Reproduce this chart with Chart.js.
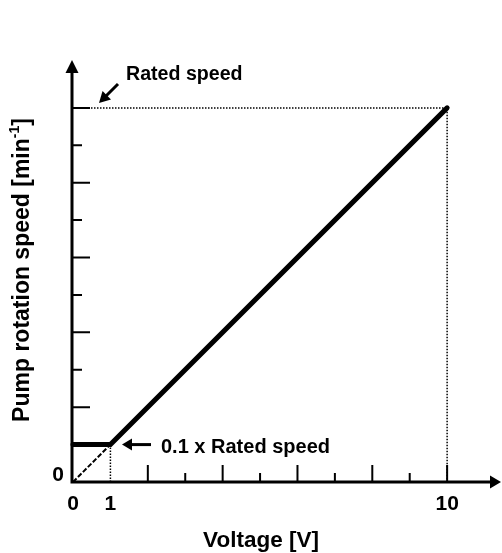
<!DOCTYPE html>
<html>
<head>
<meta charset="utf-8">
<script src="https://cdn.jsdelivr.net/npm/chart.js@4/dist/chart.umd.min.js"></script>
<style>
  html, body { margin: 0; padding: 0; background: #fff; }
  #wrap { width: 502px; height: 553px; position: relative; }
</style>
</head>
<body>
<div id="wrap"><canvas id="c"></canvas></div>
<script>
// Control characteristic: voltage input vs. pump speed
const voltage = [0, 1, 10];          // V
const speed = [1, 1, 10];            // in units of 0.1 x rated speed
const ratedSpeed = 10;
const minVoltage = 1;
const minSpeed = 1;
const idealVoltage = [0, 1];         // proportional line below the floor
const idealSpeed = [0, 1];

const xLabelTicks = [0, 1, 10];
const yLabelTicks = [0];
const xMajorTicks = [2, 4, 6, 8, 10];
const xMinorTicks = [3, 5, 7, 9];
const yMajorTicks = [2, 4, 6, 8, 10];
const yMinorTicks = [3, 5, 7, 9];

const xTitle = 'Voltage [V]';
const yTitle = 'Pump rotation speed [min';
const yTitleSup = '-1';
const ratedLabel = 'Rated speed';
const minLabel = '0.1 x Rated speed';

const FONT = '"Liberation Sans", Arial, Helvetica, sans-serif';

const pts = (xs, ys) => xs.map((x, i) => ({ x, y: ys[i] }));

function arrowHead(ctx, tx, ty, angle, len, half) {
  ctx.save();
  ctx.translate(tx, ty);
  ctx.rotate(angle);
  ctx.beginPath();
  ctx.moveTo(0, 0);
  ctx.lineTo(-len, -half);
  ctx.lineTo(-len, half);
  ctx.closePath();
  ctx.fill();
  ctx.restore();
}

const decor = {
  id: 'decor',
  afterDatasetsDraw(chart) {
    const { ctx, chartArea: a, scales: { x, y } } = chart;
    const x0 = x.getPixelForValue(0);
    const y0 = y.getPixelForValue(0);
    ctx.save();
    ctx.strokeStyle = '#000';
    ctx.fillStyle = '#000';
    ctx.setLineDash([]);

    // axes with arrow heads
    ctx.lineWidth = 3;
    ctx.beginPath();
    ctx.moveTo(x0, y0);
    ctx.lineTo(a.right - 4, y0);
    ctx.moveTo(x0 - 1, y0 + 1.5);
    ctx.lineTo(x0 - 1, a.top + 4);
    ctx.stroke();
    arrowHead(ctx, a.right, y0, 0, 11, 6.5);
    arrowHead(ctx, x0 - 1, a.top, -Math.PI / 2, 13, 6.5);

    // inward tick marks
    ctx.lineWidth = 2;
    ctx.beginPath();
    xMajorTicks.forEach(v => { const p = x.getPixelForValue(v); ctx.moveTo(p, y0); ctx.lineTo(p, y0 - 17); });
    xMinorTicks.forEach(v => { const p = x.getPixelForValue(v); ctx.moveTo(p, y0); ctx.lineTo(p, y0 - 9); });
    yMajorTicks.forEach(v => { const p = y.getPixelForValue(v); ctx.moveTo(x0, p); ctx.lineTo(x0 + 17, p); });
    yMinorTicks.forEach(v => { const p = y.getPixelForValue(v); ctx.moveTo(x0, p); ctx.lineTo(x0 + 9, p); });
    ctx.stroke();

    // annotation arrows
    ctx.lineWidth = 3;
    ctx.beginPath();
    ctx.moveTo(118, 84);
    ctx.lineTo(104, 98);
    ctx.stroke();
    arrowHead(ctx, 99, 103, Math.atan2(17, -17), 11, 6);

    const yMin = y.getPixelForValue(minSpeed);
    ctx.beginPath();
    ctx.moveTo(151, yMin);
    ctx.lineTo(128, yMin);
    ctx.stroke();
    arrowHead(ctx, 122, yMin, Math.PI, 10, 6);

    // annotation texts
    ctx.font = 'bold 19.6px ' + FONT;
    ctx.textBaseline = 'alphabetic';
    ctx.textAlign = 'left';
    ctx.fillText(ratedLabel, 126, 80);
    ctx.font = 'bold 20px ' + FONT;
    ctx.fillText(minLabel, 161, 453);

    // axis titles
    ctx.font = 'bold 22.5px ' + FONT;
    ctx.textAlign = 'center';
    ctx.fillText(xTitle, 261, 547);

    ctx.save();
    ctx.translate(29, 270);
    ctx.rotate(-Math.PI / 2);
    const big = 'bold 23px ' + FONT;
    const small = 'bold 14px ' + FONT;
    ctx.font = big;
    const wMain = ctx.measureText(yTitle).width;
    ctx.font = small;
    const wSup = ctx.measureText(yTitleSup).width;
    ctx.font = big;
    const wEnd = ctx.measureText(']').width;
    const total = wMain + wSup + wEnd;
    let cx = -total / 2;
    ctx.textAlign = 'left';
    ctx.fillText(yTitle, cx, 0);
    cx += wMain;
    ctx.font = small;
    ctx.fillText(yTitleSup, cx, -10);
    cx += wSup;
    ctx.font = big;
    ctx.fillText(']', cx, 0);
    ctx.restore();

    ctx.restore();
  }
};

new Chart(document.getElementById('c'), {
  type: 'scatter',
  data: {
    datasets: [
      {
        data: pts(voltage, speed),
        showLine: true, borderColor: '#000', borderWidth: 5,
        borderCapStyle: 'round', borderJoinStyle: 'miter',
        pointRadius: 0, clip: false, order: 0
      },
      {
        data: pts(idealVoltage, idealSpeed),
        showLine: true, borderColor: '#000', borderWidth: 2,
        borderDash: [5, 2], pointRadius: 0, clip: false, order: 1
      },
      {
        data: [{ x: 0, y: ratedSpeed }, { x: voltage[2], y: ratedSpeed }, { x: voltage[2], y: 0 }],
        showLine: true, borderColor: '#000', borderWidth: 1.5,
        borderDash: [1.5, 1.5], pointRadius: 0, clip: false, order: 2
      },
      {
        data: [{ x: minVoltage, y: 0 }, { x: minVoltage, y: minSpeed }],
        showLine: true, borderColor: '#000', borderWidth: 1.5,
        borderDash: [1.5, 1.5], pointRadius: 0, clip: false, order: 2
      }
    ]
  },
  options: {
    responsive: true,
    maintainAspectRatio: false,
    animation: false,
    events: [],
    layout: { padding: { left: 0, top: 60, right: 1, bottom: 0 } },
    plugins: { legend: { display: false }, tooltip: { enabled: false } },
    scales: {
      x: {
        type: 'linear', min: 0, max: 11.44,
        grid: { display: false, drawTicks: false },
        border: { display: false },
        afterBuildTicks: s => { s.ticks = xLabelTicks.map(v => ({ value: v })); },
        afterFit: s => { s.height = 71; },
        ticks: {
          color: '#000', padding: 10, maxRotation: 0, autoSkip: false,
          font: { family: FONT, size: 21, weight: 'bold' }
        }
      },
      y: {
        type: 'linear', min: 0, max: 11.28,
        grid: { display: false, drawTicks: false },
        border: { display: false },
        afterBuildTicks: s => { s.ticks = yLabelTicks.map(v => ({ value: v })); },
        afterFit: s => { s.width = 73; },
        ticks: {
          color: '#000', padding: 9, labelOffset: -7,
          font: { family: FONT, size: 21, weight: 'bold' }
        }
      }
    }
  },
  plugins: [decor]
});
</script>
</body>
</html>
